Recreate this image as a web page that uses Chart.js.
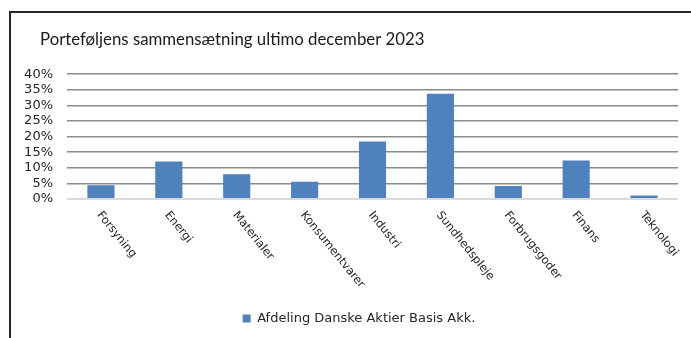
<!DOCTYPE html>
<html>
<head>
<meta charset="utf-8">
<script src="https://cdn.jsdelivr.net/npm/chart.js@4.4.1/dist/chart.umd.min.js"></script>
<style>
  html, body { margin: 0; padding: 0; background: #fff; }
  #wrap { position: relative; width: 691px; height: 338px; }
</style>
</head>
<body>
<div id="wrap"><canvas id="myChart"></canvas></div>
<script>
const categories = ['Forsyning', 'Energi', 'Materialer', 'Konsumentvarer', 'Industri', 'Sundhedspleje', 'Forbrugsgoder', 'Finans', 'Teknologi'];
const seriesName = 'Afdeling Danske Aktier Basis Akk.';
const weights = [4.4, 12.0, 7.9, 5.5, 18.4, 33.7, 4.2, 12.3, 1.1]; // procent
const yTickLabels = ['0%', '5%', '10%', '15%', '20%', '25%', '30%', '35%', '40%'];
const chartTitle = 'Porteføljens sammensætning ultimo december 2023';

const sansFamily = '"DejaVu Sans", Verdana, sans-serif';
const labelFont = '11.5px ' + sansFamily;

// ramme rundt om diagrammet
const framePlugin = {
    id: 'frame',
    beforeDraw(chart) {
        const ctx = chart.ctx;
        ctx.save();
        ctx.fillStyle = '#262626';
        ctx.fillRect(9, 11, chart.width - 9, 2);
        ctx.fillRect(9, 11, 2, chart.height - 11);
        ctx.restore();
    }
};

// flyt titel og forklaring lidt mod højre (som i Excel-diagrammet)
const shiftBoxes = {
    id: 'shiftBoxes',
    afterLayout(chart) {
        chart.titleBlock.left = 40;
        chart.legend.left += 15;
        chart.legend.right += 15;
    }
};

// skrå kategorietiketter (tekst starter ved kategorien og går nedad mod højre)
const slantLabels = {
    id: 'slantLabels',
    afterDraw(chart) {
        const ctx = chart.ctx;
        const x = chart.scales.x;
        const top = chart.chartArea.bottom;
        ctx.save();
        ctx.font = labelFont;
        ctx.fillStyle = '#262626';
        ctx.textAlign = 'left';
        ctx.textBaseline = 'middle';
        categories.forEach((c, i) => {
            ctx.save();
            ctx.translate(x.getPixelForTick(i) - 2, top + 14);
            ctx.rotate(51 * Math.PI / 180);
            ctx.fillText(c, 0, 0);
            ctx.restore();
        });
        ctx.restore();
    }
};

new Chart(document.getElementById('myChart').getContext('2d'), {
    type: 'bar',
    data: {
        labels: categories,
        datasets: [{
            label: seriesName,
            data: weights,
            backgroundColor: '#4f81bd',
            borderWidth: 0,
            categoryPercentage: 1.0,
            barPercentage: 0.4
        }]
    },
    options: {
        responsive: true,
        maintainAspectRatio: false,
        animation: false,
        layout: { padding: { left: 10, right: 13, top: 0, bottom: 3 } },
        plugins: {
            title: {
                display: true,
                text: chartTitle,
                align: 'start',
                color: '#1a1a1a',
                font: { family: 'Lato', size: 16.8, weight: 'normal', lineHeight: 1.2 },
                padding: { top: 30, bottom: 24 }
            },
            legend: {
                position: 'bottom',
                labels: {
                    boxWidth: 8,
                    boxHeight: 8,
                    color: '#262626',
                    padding: 10,
                    font: { family: sansFamily, size: 13 }
                }
            },
            tooltip: { enabled: false }
        },
        scales: {
            x: {
                grid: { display: false },
                border: { display: false },
                ticks: { display: false },
                afterFit(scale) { scale.height = 103; }
            },
            y: {
                min: 0,
                max: 40,
                border: { display: false },
                grid: {
                    drawTicks: false,
                    color: ctx => ctx.tick.value === 0 ? '#d9d9d9' : '#8a8a8a',
                    lineWidth: ctx => ctx.tick.value === 0 ? 2 : 1.5
                },
                ticks: {
                    stepSize: 5,
                    autoSkip: false,
                    padding: 14,
                    color: '#262626',
                    font: { family: sansFamily, size: 13 },
                    callback: (v) => yTickLabels[Math.round(v / 5)]
                },
                afterFit(scale) { scale.width = 57; }
            }
        }
    },
    plugins: [framePlugin, shiftBoxes, slantLabels]
});
</script>
</body>
</html>
